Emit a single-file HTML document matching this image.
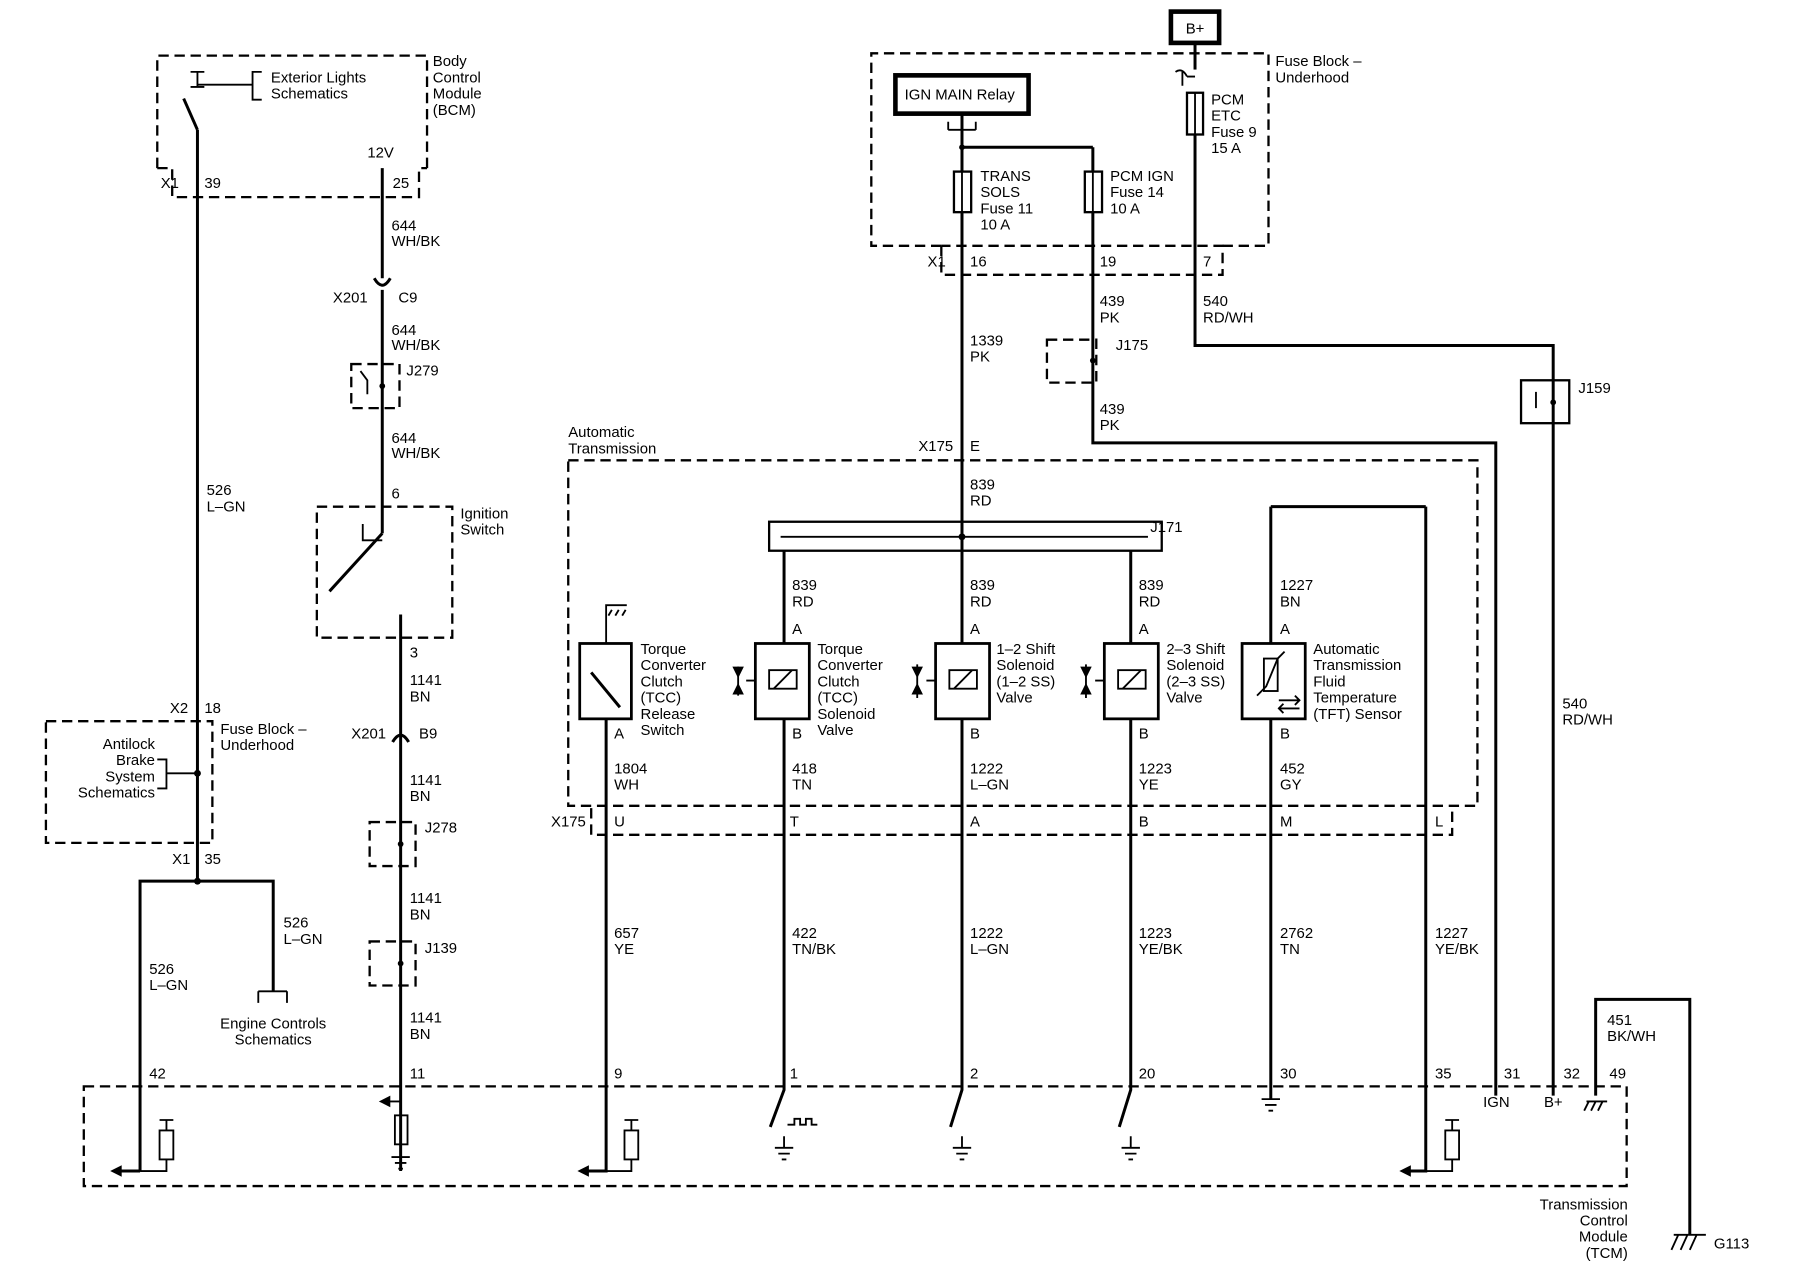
<!DOCTYPE html>
<html><head><meta charset="utf-8"><style>
html,body{margin:0;padding:0;background:#fff;}
svg{display:block}
text{font-family:"Liberation Sans",Arial,sans-serif;font-size:13px;fill:#000}
.w{stroke:#000;stroke-width:2.6;fill:none}
.t{stroke:#000;stroke-width:1.6;fill:none}
.d{stroke:#000;stroke-width:2;fill:none;stroke-dasharray:9,5}
.b{stroke:#000;stroke-width:2;fill:#fff}
.r{text-anchor:end}
.m{text-anchor:middle}
</style></head><body>
<svg width="1800" height="1280" viewBox="0 0 1568 1104" preserveAspectRatio="none" xmlns="http://www.w3.org/2000/svg">
<rect width="1568" height="1104" fill="#fff"/>

<!-- BCM -->
<path class="d" d="M137 145 V48 H372 V145"/>
<path class="d" d="M137 145 H150 V170 H365 V145 H372"/>
<text x="377" y="57">Body</text><text x="377" y="71">Control</text><text x="377" y="85">Module</text><text x="377" y="99">(BCM)</text>
<text x="236" y="71">Exterior Lights</text><text x="236" y="85">Schematics</text>
<path class="t" d="M228 62 H220 V86 H228 M220 73 H172"/>
<path class="t" d="M166 62 H178 M172 62 V75 M166 75 H178"/>
<line class="w" x1="160" y1="85" x2="172" y2="112"/>
<path class="w" d="M172 112 V760"/>
<text x="140" y="162">X1</text><text x="178" y="162">39</text>
<text x="320" y="136">12V</text><text x="342" y="162">25</text>
<path class="w" d="M333 145 V240"/>
<path class="w" d="M326 240 Q333 252 340 240"/>
<path class="w" d="M333 250 V460"/>
<text x="341" y="199">644</text><text x="341" y="212">WH/BK</text>
<text x="290" y="261">X201</text><text x="347" y="261">C9</text>
<text x="341" y="289">644</text><text x="341" y="302">WH/BK</text>
<rect class="d" x="306" y="314" width="42" height="38"/>
<path class="t" d="M314 320 L320 328 V340"/><circle cx="333" cy="333" r="2.5"/>
<text x="354" y="324">J279</text>
<text x="341" y="382">644</text><text x="341" y="395">WH/BK</text>
<text x="341" y="430">6</text>
<rect class="d" x="276" y="437" width="118" height="113"/>
<text x="401" y="447">Ignition</text><text x="401" y="461">Switch</text>
<path class="t" d="M316 452 V466 H333"/>
<line class="w" x1="333" y1="460" x2="287" y2="510"/>
<path class="w" d="M349 530 V1010"/>
<text x="357" y="567">3</text>
<text x="357" y="591">1141</text><text x="357" y="605">BN</text>
<text x="306" y="637">X201</text><text x="365" y="637">B9</text>
<path d="M342 640 Q349 628 356 640" class="w" fill="#fff"/>
<text x="357" y="677">1141</text><text x="357" y="691">BN</text>
<rect class="d" x="322" y="709" width="40" height="38"/><circle cx="349" cy="728" r="2.5"/>
<text x="370" y="718">J278</text>
<text x="357" y="779">1141</text><text x="357" y="793">BN</text>
<rect class="d" x="322" y="812" width="40" height="38"/><circle cx="349" cy="831" r="2.5"/>
<text x="370" y="822">J139</text>
<text x="357" y="882">1141</text><text x="357" y="896">BN</text>
<text x="357" y="930">11</text>

<text x="180" y="427">526</text><text x="180" y="441">L–GN</text>
<text x="148" y="615">X2</text><text x="178" y="615">18</text>
<rect class="d" x="40" y="622" width="145" height="105"/>
<text x="192" y="633">Fuse Block –</text><text x="192" y="647">Underhood</text>
<text class="r" x="135" y="646">Antilock</text><text class="r" x="135" y="660">Brake</text><text class="r" x="135" y="674">System</text><text class="r" x="135" y="688">Schematics</text>
<path class="t" d="M137 655 H145 V680 H137 M145 667 H172"/><circle cx="172" cy="667" r="3"/>
<text x="150" y="745">X1</text><text x="178" y="745">35</text>
<circle cx="172" cy="760" r="3"/>
<path class="w" d="M122 1010 V760 H238 V855"/>
<path class="t" d="M225 855 H250 M225 855 V865 M250 855 V865"/>
<text x="247" y="800">526</text><text x="247" y="814">L–GN</text>
<text x="130" y="840">526</text><text x="130" y="854">L–GN</text>
<text class="m" x="238" y="887">Engine Controls</text><text class="m" x="238" y="901">Schematics</text>
<text x="130" y="930">42</text>

<!-- TCM -->
<rect class="d" x="73" y="937" width="1344" height="86"/>
<text class="r" x="1418" y="1043">Transmission</text><text class="r" x="1418" y="1057">Control</text><text class="r" x="1418" y="1071">Module</text><text class="r" x="1418" y="1085">(TCM)</text>
<path class="w" d="M122 1010 H104"/><path d="M96 1010 L106 1005 L106 1015Z"/>
<path class="t" d="M139 966 H151 M145 966 V975 M145 1000 V1010 H122"/><rect class="t" x="139" y="975" width="12" height="25"/>
<path class="t" d="M349 950 H338"/><path d="M330 950 L340 945 L340 955Z"/>
<rect class="t" x="344" y="962" width="11" height="25"/>
<path class="t" d="M349 987 V998 M341 998 H357 M344 1003 H354 M347 1008 H351"/>
<path class="w" d="M528 620 V1010 H512"/><path d="M503 1010 L513 1005 L513 1015Z"/>
<path class="t" d="M544 966 H556 M550 966 V975 M550 1000 V1010 H528"/><rect class="t" x="544" y="975" width="12" height="25"/>
<text x="535" y="930">9</text>
<path class="w" d="M683 620 V940 L671 972"/>
<path class="t" d="M686 970 H692 V965 H697 V970 H702 V965 H707 V970 H712"/>
<path class="t" d="M683 980 V990 M675 990 H691 M678 995 H688 M681 1000 H685"/>
<text x="688" y="930">1</text>
<path class="w" d="M838 98 V940 L828 972"/>
<path class="t" d="M838 980 V990 M830 990 H846 M833 995 H843 M836 1000 H840"/>
<text x="845" y="930">2</text>
<path class="w" d="M985 475 V940 L975 972"/>
<path class="t" d="M985 980 V990 M977 990 H993 M980 995 H990 M983 1000 H987"/>
<text x="992" y="930">20</text>
<path class="w" d="M1107 437 V948"/>
<path class="t" d="M1099 948 H1115 M1102 953 H1112 M1105 958 H1109"/>
<text x="1115" y="930">30</text>
<path class="w" d="M1242 437 H1107 M1242 437 V1010 H1228"/><path d="M1219 1010 L1229 1005 L1229 1015Z"/>
<path class="t" d="M1259 966 H1271 M1265 966 V975 M1265 1000 V1010 H1242"/><rect class="t" x="1259" y="975" width="12" height="25"/>
<text x="1250" y="930">35</text>
<path class="w" d="M952 127 V382 H1303 V945"/>
<text x="1310" y="930">31</text><text x="1292" y="955">IGN</text>
<path class="w" d="M1041 37 V60"/>
<path class="t" d="M1024 62 Q1030 58 1034 66 M1030 62 V74 M1041 66 H1034"/>
<path class="w" d="M1041 80 V298 H1353 V945"/>
<text x="1362" y="930">32</text><text x="1345" y="955">B+</text>
<path class="w" d="M1390 945 V862 H1472 V1065"/>
<path class="t" d="M1382 950 H1400 M1384 950 L1380 958 M1390 950 L1386 958 M1396 950 L1392 958"/>
<text x="1402" y="930">49</text>
<text x="1400" y="884">451</text><text x="1400" y="898">BK/WH</text>
<path class="t" d="M1458 1065 H1486 M1462 1065 L1456 1078 M1470 1065 L1464 1078 M1478 1065 L1472 1078"/>
<text x="1493" y="1077">G113</text>

<rect x="1020" y="10" width="42" height="27" fill="#fff" stroke="#000" stroke-width="4"/>
<text class="m" x="1041" y="29">B+</text>
<path class="d" d="M820 212 H759 V46 H1105 V212 H1065"/>
<path class="d" d="M820 212 V237 H1065 V212 H820"/>
<text x="1111" y="57">Fuse Block –</text><text x="1111" y="71">Underhood</text>
<rect x="780" y="65" width="116" height="33" fill="#fff" stroke="#000" stroke-width="4"/>
<text x="788" y="86">IGN MAIN Relay</text>
<path class="t" d="M826 112 H850 M826 105 V112 M850 105 V112"/>
<path class="w" d="M838 127 H952"/><circle cx="838" cy="127" r="2.5"/>
<rect class="b" x="831" y="148" width="15" height="35"/><line class="t" x1="838" y1="148" x2="838" y2="183"/>
<rect class="b" x="945" y="148" width="15" height="35"/><line class="t" x1="952" y1="148" x2="952" y2="183"/>
<rect class="b" x="1034" y="80" width="14" height="36"/><line class="t" x1="1041" y1="80" x2="1041" y2="116"/>
<text x="854" y="156">TRANS</text><text x="854" y="170">SOLS</text><text x="854" y="184">Fuse 11</text><text x="854" y="198">10 A</text>
<text x="967" y="156">PCM IGN</text><text x="967" y="170">Fuse 14</text><text x="967" y="184">10 A</text>
<text x="1055" y="90">PCM</text><text x="1055" y="104">ETC</text><text x="1055" y="118">Fuse 9</text><text x="1055" y="132">15 A</text>
<text x="808" y="230">X1</text><text x="845" y="230">16</text><text x="958" y="230">19</text><text x="1048" y="230">7</text>
<text x="958" y="264">439</text><text x="958" y="278">PK</text>
<text x="958" y="357">439</text><text x="958" y="371">PK</text>
<rect class="d" x="912" y="293" width="43" height="37"/><circle cx="952" cy="311" r="2.5"/>
<text x="972" y="302">J175</text>
<text x="1048" y="264">540</text><text x="1048" y="278">RD/WH</text>
<rect x="1325" y="328" width="42" height="37" fill="none" stroke="#000" stroke-width="2"/><circle cx="1353" cy="347" r="2.5"/>
<path class="t" d="M1338 338 V352"/>
<text x="1375" y="339">J159</text>
<text x="1361" y="611">540</text><text x="1361" y="625">RD/WH</text>
<text x="845" y="298">1339</text><text x="845" y="312">PK</text>
<text x="800" y="389">X175</text><text x="845" y="389">E</text>
<text x="845" y="422">839</text><text x="845" y="436">RD</text>

<rect class="d" x="495" y="397" width="792" height="298"/>
<text x="495" y="377">Automatic</text><text x="495" y="391">Transmission</text>
<path class="d" d="M515 697 V720 H1265 V697"/>
<text x="480" y="713">X175</text>
<text x="535" y="713">U</text><text x="688" y="713">T</text><text x="845" y="713">A</text><text x="992" y="713">B</text><text x="1115" y="713">M</text><text x="1250" y="713">L</text>
<rect x="670" y="450" width="342" height="25" fill="none" stroke="#000" stroke-width="2"/>
<path class="t" d="M680 463 H1000"/><circle cx="838" cy="463" r="3"/>
<text x="1002" y="459">J171</text>
<path class="w" d="M683 475 V555"/>
<text x="690" y="509">839</text><text x="690" y="523">RD</text>
<text x="845" y="509">839</text><text x="845" y="523">RD</text>
<text x="992" y="509">839</text><text x="992" y="523">RD</text>
<text x="1115" y="509">1227</text><text x="1115" y="523">BN</text>
<text x="690" y="547">A</text><text x="845" y="547">A</text><text x="992" y="547">A</text><text x="1115" y="547">A</text>
<text x="690" y="637">B</text><text x="845" y="637">B</text><text x="992" y="637">B</text><text x="1115" y="637">B</text><text x="535" y="637">A</text>

<rect x="505" y="555" width="45" height="65" fill="#fff" stroke="#000" stroke-width="2.4"/>
<path class="t" d="M528 555 V522 H546 M533 526 L530 531 M539 526 L536 531 M545 526 L542 531"/>
<line class="w" x1="515" y1="580" x2="540" y2="610"/>
<g>
<rect x="658" y="555" width="47" height="65" fill="#fff" stroke="#000" stroke-width="2.4"/>
<rect class="t" x="670" y="578" width="24" height="16"/><line class="t" x1="674" y1="594" x2="690" y2="578"/>
<path class="t" d="M658 587 H650 M643 575 V600"/><path d="M643 585 L638 575 L648 575Z M643 589 L638 599 L648 599Z"/>
</g>
<g>
<rect x="815" y="555" width="47" height="65" fill="#fff" stroke="#000" stroke-width="2.4"/>
<rect class="t" x="827" y="578" width="24" height="16"/><line class="t" x1="831" y1="594" x2="847" y2="578"/>
<path class="t" d="M815 587 H807 M799 573 V602"/><path d="M799 585 L794 575 L804 575Z M799 589 L794 599 L804 599Z"/>
</g>
<g>
<rect x="962" y="555" width="47" height="65" fill="#fff" stroke="#000" stroke-width="2.4"/>
<rect class="t" x="974" y="578" width="24" height="16"/><line class="t" x1="978" y1="594" x2="994" y2="578"/>
<path class="t" d="M962 587 H954 M946 573 V602"/><path d="M946 585 L941 575 L951 575Z M946 589 L941 599 L951 599Z"/>
</g>
<rect x="1082" y="555" width="55" height="65" fill="#fff" stroke="#000" stroke-width="2.4"/>
<rect class="t" x="1101" y="568" width="12" height="28"/><path class="t" d="M1095 600 L1103 592 L1113 568 L1119 562"/>
<path class="t" d="M1114 604 H1132 M1128 600 L1132 604 L1128 608 M1114 611 H1132 M1118 607 L1114 611 L1118 615"/>

<text x="558" y="564">Torque</text><text x="558" y="578">Converter</text><text x="558" y="592">Clutch</text><text x="558" y="606">(TCC)</text><text x="558" y="620">Release</text><text x="558" y="634">Switch</text>
<text x="712" y="564">Torque</text><text x="712" y="578">Converter</text><text x="712" y="592">Clutch</text><text x="712" y="606">(TCC)</text><text x="712" y="620">Solenoid</text><text x="712" y="634">Valve</text>
<text x="868" y="564">1–2 Shift</text><text x="868" y="578">Solenoid</text><text x="868" y="592">(1–2 SS)</text><text x="868" y="606">Valve</text>
<text x="1016" y="564">2–3 Shift</text><text x="1016" y="578">Solenoid</text><text x="1016" y="592">(2–3 SS)</text><text x="1016" y="606">Valve</text>
<text x="1144" y="564">Automatic</text><text x="1144" y="578">Transmission</text><text x="1144" y="592">Fluid</text><text x="1144" y="606">Temperature</text><text x="1144" y="620">(TFT) Sensor</text>

<text x="535" y="667">1804</text><text x="535" y="681">WH</text>
<text x="690" y="667">418</text><text x="690" y="681">TN</text>
<text x="845" y="667">1222</text><text x="845" y="681">L–GN</text>
<text x="992" y="667">1223</text><text x="992" y="681">YE</text>
<text x="1115" y="667">452</text><text x="1115" y="681">GY</text>

<text x="535" y="809">657</text><text x="535" y="823">YE</text>
<text x="690" y="809">422</text><text x="690" y="823">TN/BK</text>
<text x="845" y="809">1222</text><text x="845" y="823">L–GN</text>
<text x="992" y="809">1223</text><text x="992" y="823">YE/BK</text>
<text x="1115" y="809">2762</text><text x="1115" y="823">TN</text>
<text x="1250" y="809">1227</text><text x="1250" y="823">YE/BK</text>
</svg>
</body></html>
